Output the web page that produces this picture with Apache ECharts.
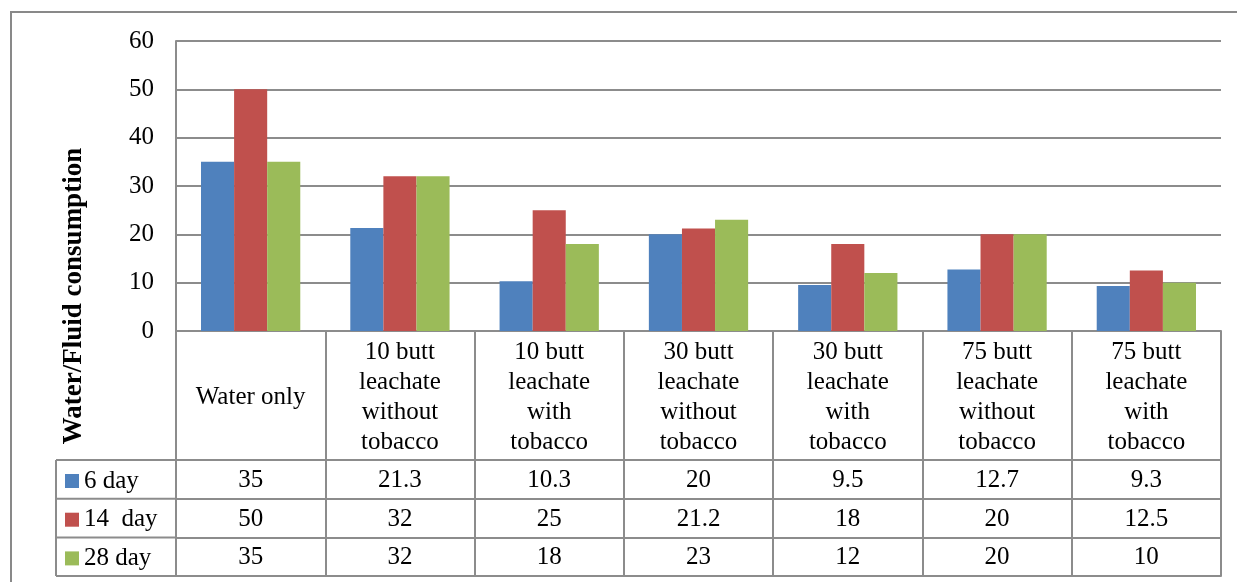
<!DOCTYPE html>
<html>
<head>
<meta charset="utf-8">
<script src="https://cdn.jsdelivr.net/npm/echarts@6/dist/echarts.min.js"></script>
<style>
  html, body { margin: 0; padding: 0; background: #fff; }
  #chart { width: 1237px; height: 582px; }
</style>
</head>
<body>
<div id="chart"></div>
<script>
// Treatment groups (category axis) and consumption per sampling day
const categories = [
  'Water only',
  '10 butt\nleachate\nwithout\ntobacco',
  '10 butt\nleachate\nwith\ntobacco',
  '30 butt\nleachate\nwithout\ntobacco',
  '30 butt\nleachate\nwith\ntobacco',
  '75 butt\nleachate\nwithout\ntobacco',
  '75 butt\nleachate\nwith\ntobacco'
];
const seriesNames = ['6 day', '14  day', '28 day'];
const day6  = [35, 21.3, 10.3, 20, 9.5, 12.7, 9.3];
const day14 = [50, 32, 25, 21.2, 18, 20, 12.5];
const day28 = [35, 32, 18, 23, 12, 20, 10];
const yTicks = { min: 0, max: 60, interval: 10 };
const yTitle = 'Water/Fluid consumption';

const seriesValues = [day6, day14, day28];
const colors = ['#4F81BD', '#C0504D', '#9BBB59'];
const FONT = "'Liberation Serif', 'Times New Roman', serif";
const LINE = '#8c8c8c';
const FS = 25;

// Layout of the plot and the data table beneath it
const G = { left: 176, right: 16, top: 41, bottom: 251 };
const catRowH = 129;   // height of the category-label row
const rowH = 38.7;     // height of each data-table row
const legendLeft = 56;

const chart = echarts.init(document.getElementById('chart'), null, { renderer: 'canvas' });

// Category axis carries the group labels; tick marks extend down to form table columns
const xAxes = [{
  type: 'category',
  data: categories,
  position: 'bottom',
  axisLine: { show: true, lineStyle: { color: LINE, width: 2 } },
  axisTick: { show: true, interval: 0, length: catRowH + rowH * 3, lineStyle: { color: LINE, width: 2 } },
  axisLabel: {
    interval: 0, margin: catRowH / 2 + 2, verticalAlign: 'middle',
    fontFamily: FONT, fontSize: FS, lineHeight: 30, color: '#000'
  },
  splitLine: { show: false }
}];
// One extra category axis per table row, its labels taken from that series
seriesValues.forEach((vals, i) => {
  xAxes.push({
    type: 'category',
    data: categories,
    position: 'bottom',
    offset: catRowH + rowH * i,
    axisLine: { show: true, lineStyle: { color: LINE, width: 2 } },
    axisTick: { show: false },
    axisLabel: {
      interval: 0, margin: rowH / 2 + 1, verticalAlign: 'middle',
      fontFamily: FONT, fontSize: FS, color: '#000',
      formatter: (v, idx) => String(vals[idx])
    },
    splitLine: { show: false }
  });
});
// Closing line under the last table row
xAxes.push({
  type: 'category',
  data: categories,
  position: 'bottom',
  offset: catRowH + rowH * 3,
  axisLine: { show: true, lineStyle: { color: LINE, width: 2 } },
  axisTick: { show: false },
  axisLabel: { show: false },
  splitLine: { show: false }
});

const tableTop = 582 - G.bottom + catRowH;
const tableBottom = tableTop + rowH * 3;
const gfx = [
  // outer chart frame
  { type: 'rect', shape: { x: 11, y: 12, width: 1240, height: 600 },
    style: { fill: 'none', stroke: '#898989', lineWidth: 2 }, silent: true },
  // y-axis title
  { type: 'text', x: 74, y: 296, rotation: Math.PI / 2,
    style: { text: yTitle, font: "bold 27px " + FONT, fill: '#000',
             textAlign: 'center', textVerticalAlign: 'middle' } },
  // legend column border
  { type: 'line', shape: { x1: legendLeft, y1: tableTop, x2: legendLeft, y2: tableBottom },
    style: { stroke: LINE, lineWidth: 2 } }
];
for (let i = 0; i <= 3; i++) {
  const y = tableTop + rowH * i;
  gfx.push({ type: 'line', shape: { x1: legendLeft, y1: y, x2: G.left, y2: y },
             style: { stroke: LINE, lineWidth: 2 } });
}

const option = {
  animation: false,
  backgroundColor: '#fff',
  color: colors,
  grid: { left: G.left, right: G.right, top: G.top, bottom: G.bottom, containLabel: false },
  legend: {
    orient: 'vertical',
    left: 65,
    top: tableTop + 7,
    padding: 0,
    itemWidth: 14, itemHeight: 14,
    itemGap: rowH - 28,
    icon: 'rect',
    selectedMode: false,
    textStyle: { fontFamily: FONT, fontSize: FS, color: '#000', lineHeight: 28 },
    data: seriesNames
  },
  xAxis: xAxes,
  yAxis: {
    type: 'value',
    min: yTicks.min, max: yTicks.max, interval: yTicks.interval,
    axisLine: { show: true, lineStyle: { color: LINE, width: 2 } },
    axisTick: { show: false },
    axisLabel: { margin: 22, fontFamily: FONT, fontSize: FS, color: '#000' },
    splitLine: { show: true, lineStyle: { color: LINE, width: 2 } }
  },
  graphic: gfx,
  series: seriesValues.map((vals, i) => ({
    name: seriesNames[i],
    type: 'bar',
    xAxisIndex: 0,
    data: vals,
    barGap: '0%',
    barCategoryGap: '33.5%',
    itemStyle: { color: colors[i] }
  }))
};

chart.setOption(option);
</script>
</body>
</html>
